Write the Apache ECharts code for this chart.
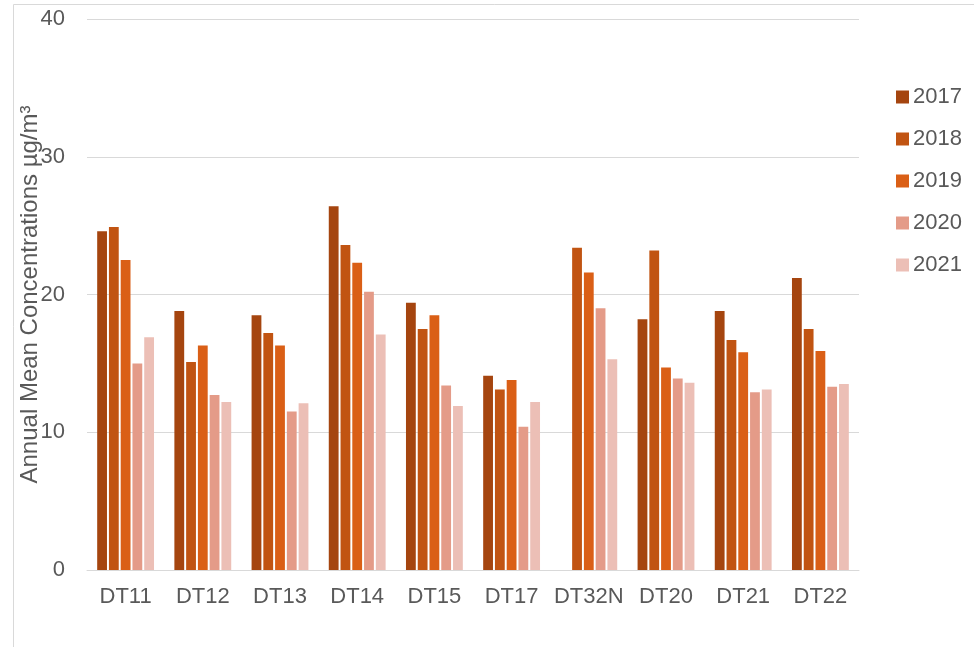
<!DOCTYPE html>
<html>
<head>
<meta charset="utf-8">
<script src="https://cdn.jsdelivr.net/npm/echarts@6/dist/echarts.min.js"></script>
<style>html,body{margin:0;padding:0;background:#fff}#c{width:974px;height:647px}</style>
</head>
<body>
<div id="c"></div>
<script>
const categories = ['DT11','DT12','DT13','DT14','DT15','DT17','DT32N','DT20','DT21','DT22'];
const years = ['2017','2018','2019','2020','2021'];
const v2017 = [24.6, 18.8, 18.5, 26.4, 19.4, 14.1, null, 18.2, 18.8, 21.2];
const v2018 = [24.9, 15.1, 17.2, 23.6, 17.5, 13.1, 23.4, 23.2, 16.7, 17.5];
const v2019 = [22.5, 16.3, 16.3, 22.3, 18.5, 13.8, 21.6, 14.7, 15.8, 15.9];
const v2020 = [15.0, 12.7, 11.5, 20.2, 13.4, 10.4, 19.0, 13.9, 12.9, 13.3];
const v2021 = [16.9, 12.2, 12.1, 17.1, 11.9, 12.2, 15.3, 13.6, 13.1, 13.5];
const yTicks = [0, 10, 20, 30, 40];
const colors = ['#A5450F', '#C15412', '#DA5F16', '#E49B88', '#ECBFB6'];
const seriesData = [v2017, v2018, v2019, v2020, v2021];

const font = 'Liberation Sans, Arial, sans-serif';
const chart = echarts.init(document.getElementById('c'), null, {renderer: 'canvas'});
chart.setOption({
  animation: false,
  color: colors,
  graphic: [{
    type: 'rect', silent: true,
    shape: {x: 13.5, y: 4.5, width: 1000, height: 1000},
    style: {fill: 'none', stroke: '#d9d9d9', lineWidth: 1}
  }],
  grid: {left: 87, right: 115, top: 19, bottom: 77},
  legend: {
    orient: 'vertical', left: 896, top: 86, padding: 0,
    itemWidth: 13, itemHeight: 13, itemGap: 20, icon: 'rect',
    textStyle: {fontFamily: font, fontSize: 22, color: '#595959', padding: [0,0,0,-1]},
    data: years
  },
  xAxis: {
    type: 'category', data: categories,
    axisLine: {lineStyle: {color: '#d9d9d9', width: 1}},
    axisTick: {show: false},
    axisLabel: {fontFamily: font, fontSize: 22, color: '#595959', margin: 16, interval: 0}
  },
  yAxis: {
    type: 'value', min: yTicks[0], max: yTicks[yTicks.length-1], interval: 10,
    name: 'Annual Mean Concentrations µg/m³', nameLocation: 'middle', nameGap: 45,
    nameMoveOverlap: false,
    nameTextStyle: {fontFamily: font, fontSize: 24, color: '#595959'},
    axisLine: {show: false}, axisTick: {show: false},
    splitLine: {lineStyle: {color: '#d9d9d9', width: 1}},
    axisLabel: {fontFamily: font, fontSize: 22, color: '#595959', margin: 22}
  },
  series: seriesData.map((d, i) => ({
    name: years[i], type: 'bar', data: d,
    barWidth: 9.8, barGap: '20%',
    itemStyle: {color: colors[i]}
  }))
});
</script>
</body>
</html>
